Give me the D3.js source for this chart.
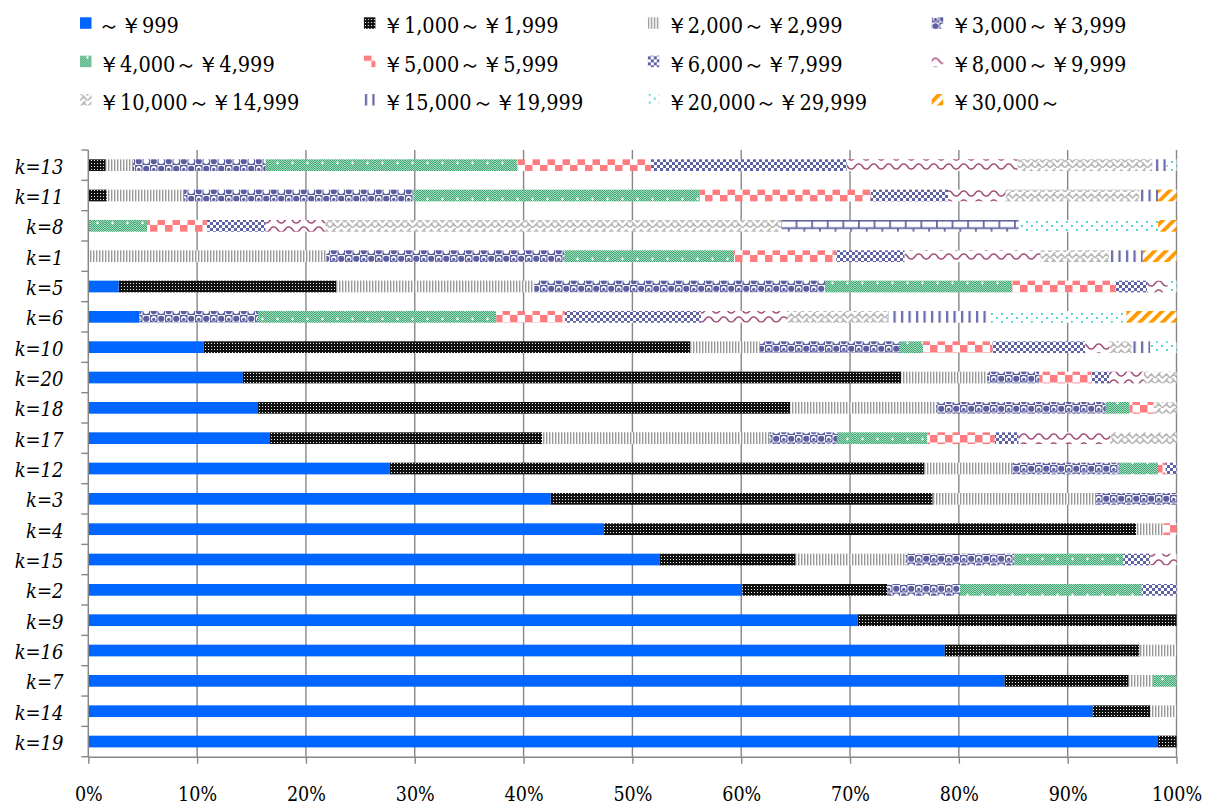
<!DOCTYPE html>
<html>
<head>
<meta charset="utf-8">
<script src="https://cdn.jsdelivr.net/npm/d3@7"></script>
<style>
  body { margin: 0; background: #fff; }
  svg text { font-family: "DejaVu Serif Condensed", "DejaVu Serif", serif; font-stretch: condensed; fill: #000; }
</style>
</head>
<body>
<svg id="chart" width="1206" height="805"></svg>
<script>
// Categories, top to bottom
const categories = ["k=13","k=11","k=8","k=1","k=5","k=6","k=10","k=20","k=18","k=17",
                    "k=12","k=3","k=4","k=15","k=2","k=9","k=16","k=7","k=14","k=19"];

// Price bands (legend order)
const seriesNames = ["～￥999","￥1,000～￥1,999","￥2,000～￥2,999","￥3,000～￥3,999",
                     "￥4,000～￥4,999","￥5,000～￥5,999","￥6,000～￥7,999","￥8,000～￥9,999",
                     "￥10,000～￥14,999","￥15,000～￥19,999","￥20,000～￥29,999","￥30,000～"];

// Share (%) of each price band, one value per category
const band0999  = [0, 0, 0, 0, 2.8, 4.7, 10.6, 14.2, 15.6, 16.7, 27.7, 42.5, 47.4, 52.5, 60.1, 70.7, 78.7, 84.2, 92.3, 98.3];
const band1000  = [1.6, 1.7, 0, 0, 20.0, 0, 44.7, 60.5, 48.9, 25.0, 49.1, 35.1, 48.9, 12.5, 13.3, 29.3, 17.9, 11.4, 5.3, 1.7];
const band2000  = [2.5, 7.1, 0, 21.9, 18.2, 0, 6.4, 7.9, 13.4, 20.9, 8.1, 15.0, 2.5, 10.1, 0, 0, 3.4, 2.2, 2.4, 0];
const band3000  = [12.2, 21.1, 0, 21.9, 26.7, 10.9, 12.8, 4.8, 15.6, 6.2, 9.8, 7.4, 0, 10.0, 6.7, 0, 0, 0, 0, 0];
const band4000  = [23.1, 26.3, 5.4, 15.6, 17.2, 21.9, 2.2, 0, 2.2, 8.3, 3.6, 0, 0, 10.0, 16.7, 0, 0, 2.2, 0, 0];
const band5000  = [12.3, 15.7, 5.5, 9.4, 9.5, 6.3, 6.4, 4.8, 2.2, 6.2, 0.7, 0, 1.2, 0, 0, 0, 0, 0, 0, 0];
const band6000  = [18.0, 7.1, 5.4, 6.3, 2.9, 12.5, 8.5, 1.6, 0, 2.2, 1.0, 0, 0, 2.5, 3.2, 0, 0, 0, 0, 0];
const band8000  = [15.7, 5.3, 5.5, 12.5, 1.8, 7.9, 2.2, 3.2, 0, 8.4, 0, 0, 0, 2.4, 0, 0, 0, 0, 0, 0];
const band10000 = [12.4, 12.3, 41.9, 6.3, 0, 9.3, 2.1, 3.0, 2.1, 6.1, 0, 0, 0, 0, 0, 0, 0, 0, 0, 0];
const band15000 = [1.3, 1.7, 21.8, 3.1, 0, 9.4, 1.7, 0, 0, 0, 0, 0, 0, 0, 0, 0, 0, 0, 0, 0];
const band20000 = [0.9, 0, 12.8, 0, 0.9, 12.5, 2.4, 0, 0, 0, 0, 0, 0, 0, 0, 0, 0, 0, 0, 0];
const band30000 = [0, 1.7, 1.7, 3.1, 0, 4.6, 0, 0, 0, 0, 0, 0, 0, 0, 0, 0, 0, 0, 0, 0];

const xTicks = [0, 0.1, 0.2, 0.3, 0.4, 0.5, 0.6, 0.7, 0.8, 0.9, 1.0];

const bandValues = [band0999, band1000, band2000, band3000, band4000, band5000,
                    band6000, band8000, band10000, band15000, band20000, band30000];
const table = categories.map((cat, i) => ({ cat, values: bandValues.map(arr => arr[i]) }));

// ---------- layout ----------
const svg = d3.select("#chart");
const plot = { left: 88.3, right: 1176.5, top: 150, bottom: 756.7 };

const x = d3.scaleLinear().domain([0, 1]).range([plot.left, plot.right]);
const y = d3.scaleBand().domain(categories).range([plot.top, plot.bottom])
  .paddingInner(0.614).paddingOuter(0.307);

// ---------- fill patterns ----------
const defs = svg.append("defs");
function pattern(id, w, h, transform) {
  const p = defs.append("pattern").attr("id", id)
    .attr("patternUnits", "userSpaceOnUse").attr("width", w).attr("height", h);
  if (transform) p.attr("patternTransform", transform);
  return p;
}
function bg(p, w, h, c) { p.append("rect").attr("width", w).attr("height", h).attr("fill", c); }

// ￥1,000～: black with white dot grid
{ const p = pattern("pBlack", 3, 3); bg(p, 3, 3, "#111");
  p.append("rect").attr("x", 1).attr("y", 1).attr("width", 1).attr("height", 1).attr("fill", "#eee"); }
// ￥2,000～: narrow gray vertical lines
{ const p = pattern("pGrayV", 3, 3); bg(p, 3, 3, "#fff");
  p.append("rect").attr("width", 1.4).attr("height", 3).attr("fill", "#999"); }
// ￥3,000～: sphere checker, indigo
{ const c = "#5c5e9f"; const p = pattern("pSphere", 15, 15); bg(p, 15, 15, "#fff");
  p.append("rect").attr("width", 7.5).attr("height", 7.5).attr("fill", c);
  p.append("rect").attr("x", 7.5).attr("y", 7.5).attr("width", 7.5).attr("height", 7.5).attr("fill", c);
  p.append("circle").attr("cx", 3.75).attr("cy", 3.75).attr("r", 2.8).attr("fill", "#fff");
  p.append("circle").attr("cx", 3.75).attr("cy", 4.4).attr("r", 1.7).attr("fill", c);
  p.append("circle").attr("cx", 11.25).attr("cy", 3.75).attr("r", 3.1).attr("fill", c);
  p.append("circle").attr("cx", 11.25).attr("cy", 11.25).attr("r", 2.8).attr("fill", "#fff");
  p.append("circle").attr("cx", 3.75).attr("cy", 11.25).attr("r", 3.1).attr("fill", c); }
// ￥4,000～: fine green checker with small white crosses
{ const f = pattern("pGreenFine", 2, 2); bg(f, 2, 2, "#a3dabd");
  f.append("rect").attr("width", 1).attr("height", 1).attr("fill", "#3fa874");
  f.append("rect").attr("x", 1).attr("y", 1).attr("width", 1).attr("height", 1).attr("fill", "#3fa874");
  const p = pattern("pGreen", 15, 12); p.append("rect").attr("width", 15).attr("height", 12).attr("fill", "url(#pGreenFine)");
  p.append("rect").attr("x", 6).attr("y", 6.5).attr("width", 3).attr("height", 1).attr("fill", "#fff");
  p.append("rect").attr("x", 7).attr("y", 5.5).attr("width", 1).attr("height", 3).attr("fill", "#fff"); }
// ￥5,000～: large salmon checker
{ const c = "#ff7c80"; const p = pattern("pRedCheck", 15, 15); bg(p, 15, 15, "#fff");
  p.append("rect").attr("width", 7.5).attr("height", 7.5).attr("fill", c);
  p.append("rect").attr("x", 7.5).attr("y", 7.5).attr("width", 7.5).attr("height", 7.5).attr("fill", c); }
// ￥6,000～: small indigo checker
{ const c = "#5f62a5"; const p = pattern("pNavyCheck", 6, 6); bg(p, 6, 6, "#fff");
  p.append("rect").attr("width", 3).attr("height", 3).attr("fill", c);
  p.append("rect").attr("x", 3).attr("y", 3).attr("width", 3).attr("height", 3).attr("fill", c); }
// ￥8,000～: mauve waves
{ const p = pattern("pWave", 15, 9); bg(p, 15, 9, "#fff");
  p.append("path").attr("d", "M-3.75,7 Q-1.9,7.5 0,4.5 Q1.9,1.5 3.75,2 Q5.6,1.5 7.5,4.5 Q9.4,7.5 11.25,7 Q13.1,7.5 15,4.5 Q16.9,1.5 18.75,2")
    .attr("fill", "none").attr("stroke", "#a34d7a").attr("stroke-width", 1.5); }
// ￥10,000～: light gray weave
{ const c = "#b8b8b8"; const p = pattern("pWeave", 15, 12); bg(p, 15, 12, "#fff");
  p.append("path").attr("d", "M0,6 L3.75,2 L7.5,6 L11.25,2 L15,6 M0,12 L3.75,8 L7.5,12 L11.25,8 L15,12 M3.75,2 L5.6,0 M11.25,8 L13.1,6 M3.75,8 L1.9,6")
    .attr("fill", "none").attr("stroke", c).attr("stroke-width", 1.6); }
// ￥15,000～: wide indigo vertical lines
{ const p = pattern("pNavyV", 7.5, 6); bg(p, 7.5, 6, "#fff");
  p.append("rect").attr("x", 1).attr("width", 2.2).attr("height", 6).attr("fill", "#6567a8"); }
// ￥15,000～ (k=8 point): indigo brick outline
{ const c = "#5f619f"; const p = pattern("pBrick", 15.6, 15).attr("y", y("k=8") - 0.2); bg(p, 15.6, 15, "#fff");
  p.append("path").attr("d", "M0,0.9 H15.6 M0,8.4 H15.6 M0.9,0 V8.4 M8.7,8.4 V15")
    .attr("fill", "none").attr("stroke", c).attr("stroke-width", 1.7); }
// ￥20,000～: sparse cyan dots
{ const c = "#33cccc"; const p = pattern("pCyan", 10, 8); bg(p, 10, 8, "#fff");
  p.append("rect").attr("x", 1).attr("y", 1).attr("width", 1.8).attr("height", 1.8).attr("fill", c);
  p.append("rect").attr("x", 6).attr("y", 5).attr("width", 1.8).attr("height", 1.8).attr("fill", c); }
// ￥30,000～: wide orange diagonals
{ const p = pattern("pOrange", 8, 8, "rotate(45)"); bg(p, 8, 8, "#fff");
  p.append("rect").attr("width", 3.8).attr("height", 8).attr("fill", "#ff9900"); }

const fills = ["#0066ff", "url(#pBlack)", "url(#pGrayV)", "url(#pSphere)", "url(#pGreen)",
               "url(#pRedCheck)", "url(#pNavyCheck)", "url(#pWave)", "url(#pWeave)",
               "url(#pNavyV)", "url(#pCyan)", "url(#pOrange)"];
// point-level fill exception
const pointFill = (cat, k) => (cat === "k=8" && k === 9) ? "url(#pBrick)" : fills[k];

// ---------- gridlines ----------
const axisColor = "#868686";
svg.append("g").selectAll("line").data(xTicks.filter(t => t > 0)).join("line")
  .attr("x1", d => x(d)).attr("x2", d => x(d))
  .attr("y1", plot.top).attr("y2", plot.bottom)
  .attr("stroke", axisColor).attr("stroke-width", 1.4);

// ---------- stacked bars (100%) ----------
const stack = d3.stack().keys(d3.range(seriesNames.length))
  .value((d, k) => d.values[k]).offset(d3.stackOffsetExpand);
const layers = stack(table);

svg.append("g").selectAll("g").data(layers).join("g")
  .selectAll("rect").data(L => L.map(s => ({ s, k: L.key }))).join("rect")
  .attr("x", d => x(d.s[0]))
  .attr("width", d => Math.max(0, x(d.s[1]) - x(d.s[0])))
  .attr("y", d => y(d.s.data.cat))
  .attr("height", y.bandwidth())
  .attr("fill", d => pointFill(d.s.data.cat, d.k));

// ---------- x axis ----------
const xAxis = svg.append("g").attr("transform", `translate(0,${plot.bottom})`)
  .call(d3.axisBottom(x).tickValues(xTicks).tickFormat(d3.format(".0%")).tickSize(7).tickSizeOuter(0))
  .attr("font-family", null).attr("font-size", null);
xAxis.select(".domain").attr("stroke", axisColor).attr("stroke-width", 1.5);
xAxis.selectAll(".tick line").attr("stroke", axisColor).attr("stroke-width", 1.4);
xAxis.selectAll(".tick text").attr("y", 44.5).attr("dy", 0)
  .style("font-size", "19.5px").attr("fill", "#000");

// ---------- y axis ----------
const step = y.step();
const boundaries = d3.range(categories.length + 1).map(i => plot.top + i * step);
svg.append("g").selectAll("line").data(boundaries).join("line")
  .attr("x1", plot.left - 7).attr("x2", plot.left)
  .attr("y1", d => d).attr("y2", d => d)
  .attr("stroke", axisColor).attr("stroke-width", 1.4);
svg.append("line").attr("x1", plot.left).attr("x2", plot.left)
  .attr("y1", plot.top).attr("y2", plot.bottom)
  .attr("stroke", axisColor).attr("stroke-width", 1.5);
svg.append("g").selectAll("text").data(categories).join("text")
  .attr("x", 63.5).attr("y", d => y(d) + y.bandwidth() / 2 + 8.5)
  .attr("text-anchor", "end")
  .style("font-size", "20px").style("font-style", "italic")
  .text(d => d);

// ---------- legend ----------
const legend = svg.append("g");
const item = legend.selectAll("g").data(seriesNames).join("g")
  .attr("transform", (d, i) => `translate(${80 + (i % 4) * 283.9},${Math.floor(i / 4) * 38.35})`);
item.append("rect").attr("x", 0).attr("y", 17.3).attr("width", 11.5).attr("height", 11.5)
  .attr("fill", (d, i) => fills[i]);
item.append("text").attr("x", 18).attr("y", 33.3)
  .style("font-size", "21.5px").text(d => d);
</script>
</body>
</html>
